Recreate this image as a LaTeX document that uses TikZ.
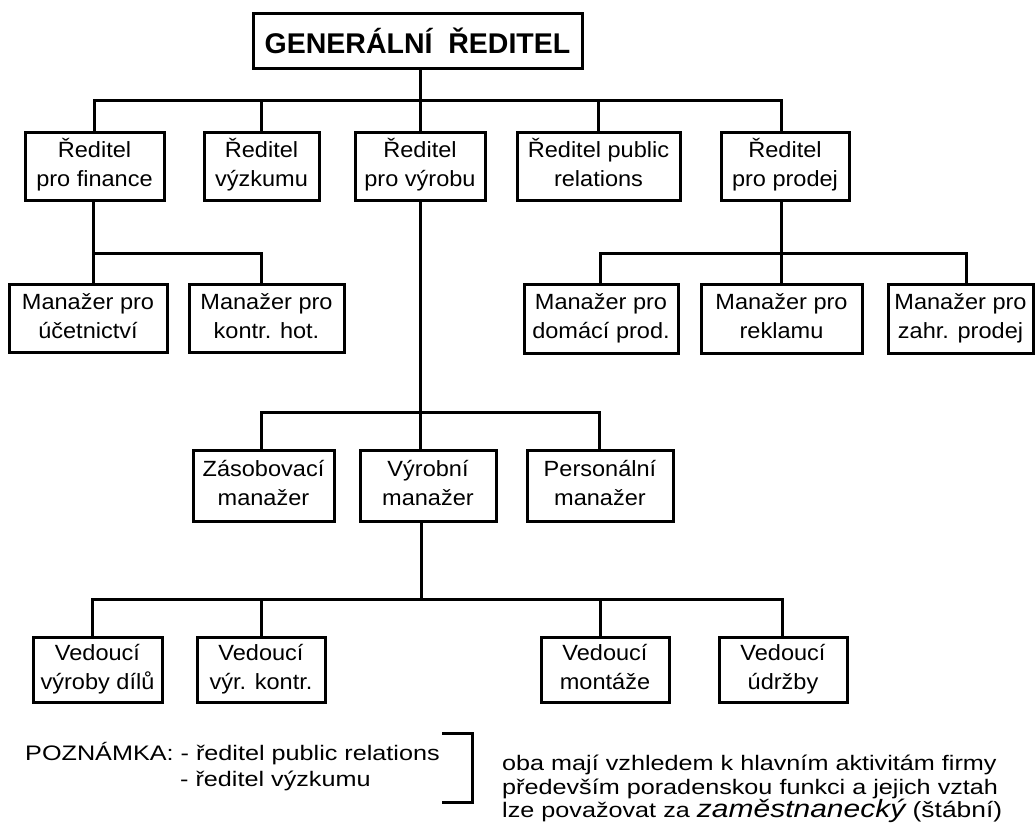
\documentclass[tikz,border=0pt]{standalone}
\usepackage{fontspec}
\setmainfont{Liberation Sans}
\newfontfamily\boxfont[FakeStretch=1.07]{Liberation Sans}
\newfontfamily\notefont[FakeStretch=1.2]{Liberation Sans}
% two strutted lines, so every box centres its text alike
\newcommand\twoline[2]{\strut#1\\\strut#2}
\begin{document}
\begin{tikzpicture}[x=1pt,y=-1pt,
  conn/.style={line width=3pt},
  box/.style={draw, line width=3pt, fill=white, inner sep=0pt, align=center,
    font=\boxfont\fontsize{22}{29}\selectfont},
  chief/.style={draw, line width=3pt, fill=white, inner sep=0pt,
    font=\bfseries\fontsize{28.5}{34}\selectfont},
  note/.style={inner sep=0pt, anchor=base west,
    font=\notefont\fontsize{21}{25}\selectfont}]
\useasboundingbox (0,0) rectangle (1036,823);

% top
\node[chief, minimum width=329pt, minimum height=55pt] (G) at (417.5,40.5) {GENERÁLNÍ\ \ ŘEDITEL};

% directors
\node[box, minimum width=139pt, minimum height=68pt] (r1) at (94.5,166) {\twoline{Ředitel}{pro finance}};
\node[box, minimum width=115pt, minimum height=68pt] (r2) at (261.5,166) {\twoline{Ředitel}{výzkumu}};
\node[box, minimum width=130pt, minimum height=68pt] (r3) at (420,166) {\twoline{Ředitel}{pro výrobu}};
\node[box, minimum width=163pt, minimum height=68pt] (r4) at (598.5,166) {\twoline{Ředitel public}{relations}};
\node[box, minimum width=128pt, minimum height=68pt] (r5) at (785,166) {\twoline{Ředitel}{pro prodej}};

% managers under finance and sales
\node[box, minimum width=158pt, minimum height=68pt] (mA) at (88,318) {\twoline{Manažer pro}{účetnictví}};
\node[box, minimum width=155pt, minimum height=68pt] (mB) at (266.5,318) {\twoline{Manažer pro}{kontr. hot.}};
\node[box, minimum width=154pt, minimum height=69pt] (mC) at (601,318.5) {\twoline{Manažer pro}{domácí prod.}};
\node[box, minimum width=161pt, minimum height=69pt] (mD) at (781.5,318.5) {\twoline{Manažer pro}{reklamu}};
\node[box, minimum width=145pt, minimum height=69pt] (mE) at (960.5,318.5) {\twoline{Manažer pro}{zahr. prodej}};

% production managers
\node[box, minimum width=141pt, minimum height=71pt] (zm) at (263.5,485.5) {\twoline{Zásobovací}{manažer}};
\node[box, minimum width=136pt, minimum height=71pt] (vm) at (428,485.5) {\twoline{Výrobní}{manažer}};
\node[box, minimum width=146pt, minimum height=71pt] (pm) at (600,485.5) {\twoline{Personální}{manažer}};

% heads
\node[box, minimum width=129pt, minimum height=65pt] (h1) at (97.5,669.5) {\twoline{Vedoucí}{výroby dílů}};
\node[box, minimum width=128pt, minimum height=65pt] (h2) at (261,669.5) {\twoline{Vedoucí}{výr. kontr.}};
\node[box, minimum width=128pt, minimum height=65pt] (h3) at (605,669.5) {\twoline{Vedoucí}{montáže}};
\node[box, minimum width=128pt, minimum height=65pt] (h4) at (783,669.5) {\twoline{Vedoucí}{údržby}};

% bus levels
\coordinate (b1) at (0,100);
\coordinate (b2) at (0,253);
\coordinate (b3) at (0,412);
\coordinate (b4) at (0,599);

% feet of the drops that sit off the box centre
\coordinate (r1f) at ([xshift=-1.5pt]r1.south);
\coordinate (r5f) at ([xshift=-4pt]r5.north);
\coordinate (r5s) at ([xshift=-4pt]r5.south);
\coordinate (mAf) at ([xshift=5pt]mA.north);
\coordinate (mBf) at ([xshift=-5.5pt]mB.north);
\coordinate (mCf) at ([xshift=-1pt]mC.north);
\coordinate (mDf) at ([xshift=-0.5pt]mD.north);
\coordinate (mEf) at ([xshift=5.5pt]mE.north);
\coordinate (zmf) at ([xshift=-2.5pt]zm.north);
\coordinate (vmf) at ([xshift=-7pt]vm.south);
\coordinate (pmf) at ([xshift=-1pt]pm.north);
\coordinate (h1f) at ([xshift=-5pt]h1.north);
\coordinate (h3f) at ([xshift=-5pt]h3.north);
\coordinate (h4f) at ([xshift=-1pt]h4.north);

% level 1
\draw[conn] (G.south -| r3.north) -- (r3.north);
\draw[conn] (r1.north) |- (b1 -| r5f) -- (r5f);
\draw[conn] (r2.north) -- (r2.north |- b1);
\draw[conn] (r4.north) -- (r4.north |- b1);

% finance
\draw[conn] (r1f) -- (r1f |- b2);
\draw[conn] (mAf) |- (b2 -| mBf) -- (mBf);

% sales
\draw[conn] (r5s) -- (mDf);
\draw[conn] (mCf) |- (b2 -| mEf) -- (mEf);

% production
\draw[conn] (r3.south) -- (r3.south |- zm.north);
\draw[conn] (zmf) |- (b3 -| pmf) -- (pmf);

% production manager's heads
\draw[conn] (vmf) -- (vmf |- b4);
\draw[conn] (h1f) |- (b4 -| h4f) -- (h4f);
\draw[conn] (h2.north) -- (h2.north |- b4);
\draw[conn] (h3f) -- (h3f |- b4);

% note
\node[note] (n1) at (25,760) {POZNÁMKA: - ředitel public relations};
\node[note] (n2) at (180,786) {- ředitel výzkumu};
\draw[line width=3pt] (442,733) -- (472,733) -- (472,802) -- (442,802);
\node[note] (t1) at (502,770) {oba mají vzhledem k hlavním aktivitám firmy};
\node[note] (t2) at (502,794) {především poradenskou funkci a jejich vztah};
\node[note] (t3) at (502,817) {lze považovat za \fontsize{25}{25}\selectfont\itshape zaměstnanecký\fontsize{22}{25}\selectfont\upshape\ (štábní)};
\end{tikzpicture}
\end{document}
